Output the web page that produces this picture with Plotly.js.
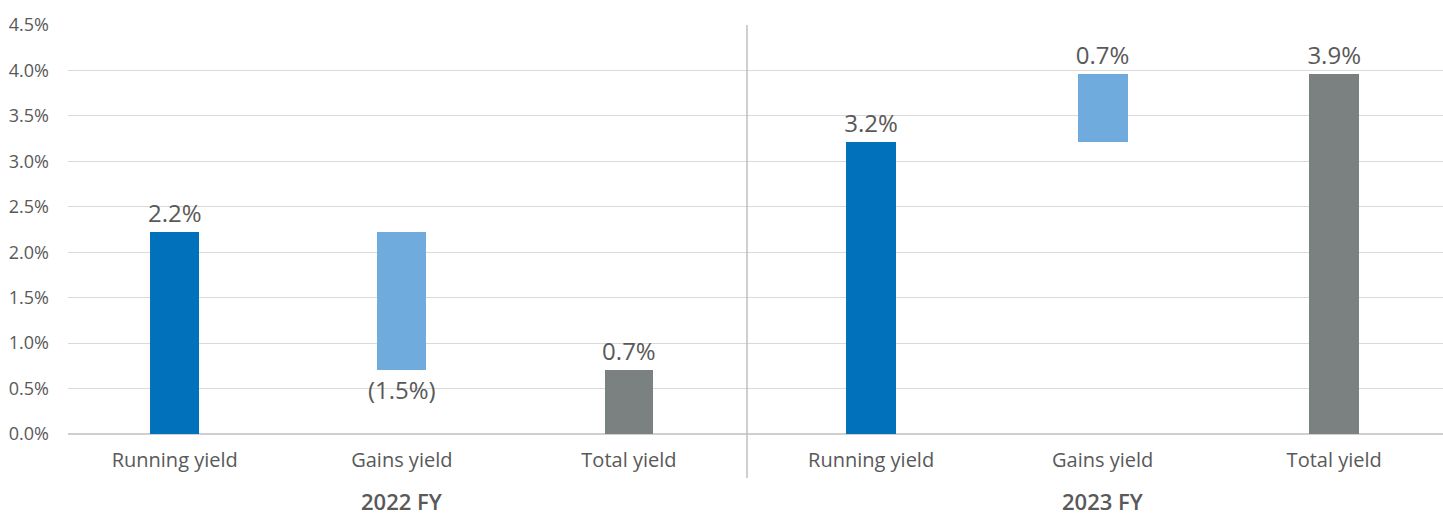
<!DOCTYPE html>
<html>
<head>
<meta charset="utf-8">
<script src="https://cdn.plot.ly/plotly-3.0.1.min.js"></script>
<style>html,body{margin:0;padding:0;background:#fff}#chart{width:1443px;height:517px}</style>
</head>
<body>
<div id="chart"></div>
<script>
// ---- data ----
const categories = ['Running yield', 'Gains yield', 'Total yield'];
const periods = ['2022 FY', '2023 FY'];
const fy2022Values = [2.22, -1.52, 0.70];
const fy2022Bases = [0, 2.22, 0];
const fy2022Labels = ['2.2%', '(1.5%)', '0.7%'];
const fy2023Values = [3.21, 0.75, 3.96];
const fy2023Bases = [0, 3.21, 0];
const fy2023Labels = ['3.2%', '0.7%', '3.9%'];
const yTicks = [0, 0.5, 1, 1.5, 2, 2.5, 3, 3.5, 4, 4.5];
const yTickLabels = ['0.0%', '0.5%', '1.0%', '1.5%', '2.0%', '2.5%', '3.0%', '3.5%', '4.0%', '4.5%'];

// ---- style ----
const barColors = ['#0071BA', '#70ABDD', '#7B8080'];
const textColor = '#595959';
const fontFamily = '"Open Sans", Lato, sans-serif';
const split = (747 - 68) / 1375;

function barTrace(values, bases, labels, xa) {
  return {
    type: 'bar', x: categories, y: values, base: bases,
    xaxis: xa, yaxis: 'y',
    width: 0.215,
    marker: {color: barColors, line: {width: 0}},
    text: labels, textposition: 'outside', constraintext: 'none',
    textfont: {family: fontFamily, size: 24, color: textColor},
    cliponaxis: false, hoverinfo: 'skip', showlegend: false
  };
}

const data = [
  barTrace(fy2022Values, fy2022Bases, fy2022Labels, 'x'),
  barTrace(fy2023Values, fy2023Bases, fy2023Labels, 'x2')
];

const xCommon = {
  type: 'category', showgrid: false, zeroline: false, showline: false,
  ticks: '', tickfont: {family: fontFamily, size: 20, color: textColor},
  ticklabelstandoff: 12, fixedrange: true
};

const layout = {
  width: 1443, height: 517,
  margin: {l: 68, r: 0, t: 25, b: 83},
  paper_bgcolor: '#ffffff', plot_bgcolor: '#ffffff',
  font: {family: fontFamily, color: textColor},
  bargap: 0,
  xaxis: Object.assign({}, xCommon, {domain: [0, split], range: [-0.47, 2.52], anchor: 'y'}),
  xaxis2: Object.assign({}, xCommon, {domain: [split, 1], range: [-0.536, 2.47], anchor: 'y'}),
  yaxis: {
    range: [0, 4.5], tickmode: 'array', tickvals: yTicks, ticktext: yTickLabels,
    showgrid: true, gridcolor: '#d9d9d9', gridwidth: 1,
    zeroline: true, zerolinecolor: '#cfcfcf', zerolinewidth: 2,
    showline: false, ticks: '', ticklabelstandoff: 18,
    tickfont: {family: fontFamily, size: 18, color: textColor}, fixedrange: true
  },
  shapes: [{
    type: 'line', xref: 'paper', yref: 'paper',
    x0: split, x1: split, y0: -0.1076, y1: 1,
    line: {color: '#bfbfbf', width: 1.5}
  }],
  annotations: [
    {xref: 'x', yref: 'paper', x: categories[1], y: -0.1638, yanchor: 'middle', showarrow: false,
     text: periods[0], font: {family: fontFamily, size: 22, color: textColor, weight: 600}},
    {xref: 'x2', yref: 'paper', x: categories[1], y: -0.1638, yanchor: 'middle', showarrow: false,
     text: periods[1], font: {family: fontFamily, size: 22, color: textColor, weight: 600}}
  ]
};

Plotly.newPlot('chart', data, layout, {displayModeBar: false, staticPlot: true});
</script>
</body>
</html>
